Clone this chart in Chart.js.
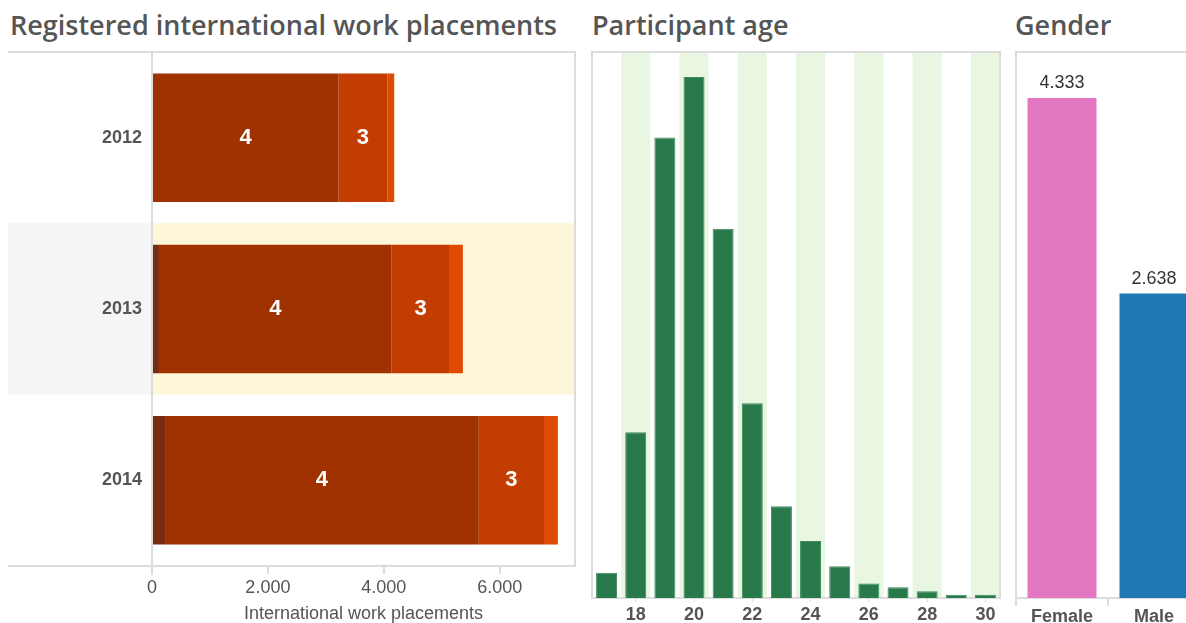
<!DOCTYPE html>
<html>
<head>
<meta charset="utf-8">
<script src="https://cdn.jsdelivr.net/npm/chart.js@4.4.1/dist/chart.umd.min.js"></script>
<style>
  body { margin: 0; width: 1186px; height: 623px; overflow: hidden; background: #fff; position: relative; }
  .title { position: absolute; top: 11px; font: 600 27px "Open Sans", sans-serif; line-height: 1; color: #555; white-space: nowrap; }
  canvas { position: absolute; }
</style>
</head>
<body>
<div class="title" style="left:10px">Registered international work placements</div>
<div class="title" style="left:592px">Participant age</div>
<div class="title" style="left:1015px">Gender</div>
<canvas id="placements" width="580" height="583" style="left:0;top:40px"></canvas>
<canvas id="age" width="420" height="583" style="left:585px;top:40px"></canvas>
<canvas id="gender" width="300" height="583" style="left:1008px;top:40px"></canvas>
<script>
// placements per year, split by level
const years = ['2012', '2013', '2014'];
const segmentNames = ['5', '4', '3', '2'];
const segment5 = [0, 120, 225];
const segment4 = [3215, 4015, 5415];
const segment3 = [845, 1005, 1125];
const segment2 = [120, 225, 240];
const placementTicks = [0, 2000, 4000, 6000];
const highlightedYear = '2013';

// participants by age
const ages = ['17', '18', '19', '20', '21', '22', '23', '24', '25', '26', '27', '28', '29', '30'];
const ageCounts = [90, 590, 1640, 1855, 1315, 693, 327, 203, 113, 52, 38, 24, 12, 12];

// participants by gender
const genders = ['Female', 'Male'];
const genderCounts = [4333, 2638];

const segmentColors = ['#7b2c10', '#a03100', '#c33c01', '#e04b03'];
const genderColors = ['#e377c2', '#1f77b4'];
const LINE = '#dcdcdc';
const FONT = '"Liberation Sans", Arial, sans-serif';

const fmt = v => String(v).replace(/\B(?=(\d{3})+(?!\d))/g, '.');

Chart.defaults.animation = false;
Chart.defaults.font.family = FONT;
Chart.defaults.plugins.legend.display = false;
Chart.defaults.plugins.tooltip.enabled = false;

function line(ctx, x1, y1, x2, y2) {
  ctx.beginPath();
  ctx.moveTo(x1, y1);
  ctx.lineTo(x2, y2);
  ctx.stroke();
}

// ---- Registered international work placements ----
const placementFrame = {
  id: 'placementFrame',
  beforeDraw(chart) {
    const { ctx, chartArea: a, scales: { y } } = chart;
    const band = (a.bottom - a.top) / years.length;
    const yc = y.getPixelForValue(years.indexOf(highlightedYear));
    ctx.save();
    ctx.fillStyle = '#f5f5f5';
    ctx.fillRect(8, yc - band / 2, a.left - 8, band);
    ctx.fillStyle = '#fdf6d8';
    ctx.fillRect(a.left, yc - band / 2, a.right - a.left, band);
    ctx.strokeStyle = LINE;
    ctx.lineWidth = 2;
    line(ctx, 8, a.top, a.right + 1, a.top);
    line(ctx, 8, a.bottom, a.right + 1, a.bottom);
    line(ctx, a.right, a.top, a.right, a.bottom);
    line(ctx, a.left, a.top, a.left, a.bottom + 9);
    ctx.restore();
  },
  afterDatasetsDraw(chart) {
    const { ctx } = chart;
    ctx.save();
    ctx.fillStyle = '#fff';
    ctx.font = 'bold 22px ' + FONT;
    ctx.textAlign = 'center';
    ctx.textBaseline = 'middle';
    chart.data.datasets.forEach((ds, i) => {
      chart.getDatasetMeta(i).data.forEach(bar => {
        const w = Math.abs(bar.x - bar.base);
        if (w > 40) ctx.fillText(ds.label, (bar.x + bar.base) / 2, bar.y);
      });
    });
    ctx.restore();
  }
};

new Chart(document.getElementById('placements'), {
  type: 'bar',
  data: {
    labels: years,
    datasets: [segment5, segment4, segment3, segment2].map((d, i) => ({
      label: segmentNames[i],
      data: d,
      backgroundColor: segmentColors[i],
      barPercentage: 0.75,
      categoryPercentage: 1
    }))
  },
  options: {
    indexAxis: 'y',
    responsive: false,
    layout: { padding: { left: 8, right: 5, top: 12, bottom: 0 } },
    scales: {
      x: {
        stacked: true,
        min: 0,
        max: 7300,
        afterBuildTicks: s => { s.ticks = placementTicks.map(v => ({ value: v })); },
        afterFit: s => { s.height = 57; },
        border: { display: false },
        grid: { drawOnChartArea: false, tickLength: 8, color: LINE, lineWidth: 2 },
        ticks: { color: '#555', font: { size: 18 }, padding: 3, callback: v => fmt(v) },
        title: {
          display: true,
          text: 'International work placements',
          color: '#555',
          font: { size: 18, lineHeight: 1 },
          padding: 0
        }
      },
      y: {
        stacked: true,
        afterFit: s => { s.width = 144; s.paddingTop = 0; s.paddingBottom = 0; },
        border: { display: false },
        grid: { display: false, drawTicks: false },
        ticks: { autoSkip: false, color: '#555', font: { size: 18, weight: 'bold' }, padding: 10 }
      }
    }
  },
  plugins: [placementFrame]
});

// ---- Participant age ----
const ageFrame = {
  id: 'ageFrame',
  beforeDraw(chart) {
    const { ctx, chartArea: a, scales: { x } } = chart;
    const w = (a.right - a.left) / ages.length;
    ctx.save();
    ctx.fillStyle = '#e9f6e1';
    ages.forEach((age, i) => {
      if (Number(age) % 2 === 0) {
        const xc = x.getPixelForValue(i);
        ctx.fillRect(xc - w / 2, a.top, w, a.bottom - a.top);
      }
    });
    ctx.strokeStyle = LINE;
    ctx.lineWidth = 2;
    line(ctx, a.left - 1, a.top, a.right + 1, a.top);
    line(ctx, a.left, a.top, a.left, a.bottom);
    line(ctx, a.right, a.top, a.right, a.bottom);
    line(ctx, a.left - 1, a.bottom, a.right + 1, a.bottom);
    ctx.restore();
  }
};

new Chart(document.getElementById('age'), {
  type: 'bar',
  data: {
    labels: ages,
    datasets: [{
      data: ageCounts,
      backgroundColor: '#287a4b',
      borderColor: '#3d8a5c',
      borderWidth: 1,
      barPercentage: 0.72,
      categoryPercentage: 1
    }]
  },
  options: {
    responsive: false,
    layout: { padding: { left: 7, right: 5, top: 12, bottom: 0 } },
    scales: {
      x: {
        afterFit: s => { s.height = 25; },
        border: { display: false },
        grid: {
          offset: false,
          drawOnChartArea: false,
          tickLength: 4,
          color: c => (Number(ages[c.index]) % 2 === 0 ? LINE : 'rgba(0,0,0,0)')
        },
        ticks: {
          autoSkip: false,
          maxRotation: 0,
          color: '#555',
          font: { size: 18, weight: 'bold' },
          padding: 2,
          callback: (v, i) => (Number(ages[i]) % 2 === 0 ? ages[i] : '')
        }
      },
      y: { display: false, min: 0, max: 1944 }
    }
  },
  plugins: [ageFrame]
});

// ---- Gender ----
const genderFrame = {
  id: 'genderFrame',
  beforeDraw(chart) {
    const { ctx, chartArea: a } = chart;
    ctx.save();
    ctx.strokeStyle = LINE;
    ctx.lineWidth = 2;
    line(ctx, a.left - 1, a.top, a.right + 1, a.top);
    line(ctx, a.left, a.top, a.left, a.bottom);
    line(ctx, a.right, a.top, a.right, a.bottom);
    line(ctx, a.left - 1, a.bottom, a.right + 1, a.bottom);
    ctx.restore();
  },
  afterDatasetsDraw(chart) {
    const { ctx } = chart;
    ctx.save();
    ctx.fillStyle = '#333';
    ctx.font = '18px ' + FONT;
    ctx.textAlign = 'center';
    ctx.textBaseline = 'bottom';
    chart.getDatasetMeta(0).data.forEach((bar, i) => {
      ctx.fillText(fmt(genderCounts[i]), bar.x, bar.y - 6);
    });
    ctx.restore();
  }
};

new Chart(document.getElementById('gender'), {
  type: 'bar',
  data: {
    labels: genders,
    datasets: [{
      data: genderCounts,
      backgroundColor: genderColors,
      barPercentage: 0.75,
      categoryPercentage: 1
    }]
  },
  options: {
    responsive: false,
    layout: { padding: { left: 8, right: 108, top: 12, bottom: 0 } },
    scales: {
      x: {
        afterFit: s => { s.height = 25; },
        border: { display: false },
        grid: { drawOnChartArea: false, tickLength: 8, color: LINE, lineWidth: 2 },
        ticks: { color: '#555', font: { size: 18, weight: 'bold' }, padding: 0, maxRotation: 0 }
      },
      y: { display: false, min: 0, max: 4732 }
    }
  },
  plugins: [genderFrame]
});
</script>
</body>
</html>
